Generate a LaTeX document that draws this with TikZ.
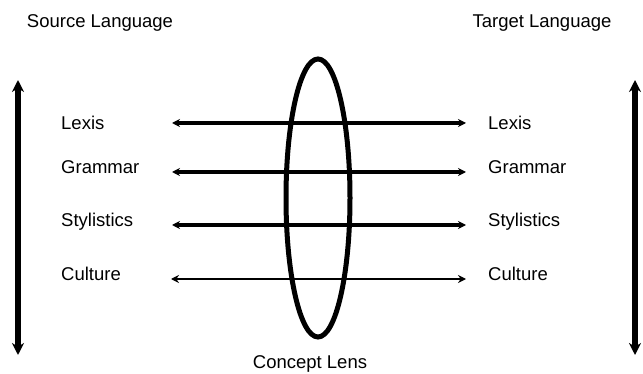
\documentclass[tikz,border=0pt]{standalone}
\usepackage{fontspec}
\setmainfont{Liberation Sans}
\usepackage{tikz}
\usetikzlibrary{arrows.meta}

\begin{document}
\begin{tikzpicture}[x=1pt,y=-1pt,
    lbl/.style={inner sep=0pt,anchor=base,font=\fontsize{18.5}{22}\selectfont},
    axis/.style={line width=6pt,{Stealth[length=12pt,width=12pt]}-{Stealth[length=12pt,width=12pt]}},
    link/.style={line width=3.2pt,{Stealth[length=8pt,width=8pt]}-{Stealth[length=8pt,width=8pt]}}]
  \useasboundingbox (0,0) rectangle (643,374);
  \node[lbl] (src) at (100,28) {Source Language};
  \node[lbl] (tgt) at (542,28) {Target Language};
  % side arrows
  \coordinate (st) at (18,80);  \coordinate (sb) at (18,355);
  \coordinate (tt) at (635,80); \coordinate (tb) at (635,355);
  \draw[axis] (st) -- (sb);
  \draw[axis] (tt) -- (tb);
  % lens
  \draw[line width=5pt] (318,198) ellipse [x radius=32, y radius=139];
  \node[lbl] (lens) at (310,368) {Concept Lens};
  % levels
  \foreach \name/\y/\b in {Lexis/123/130,Grammar/172/174,Stylistics/225/227} {
    \node[lbl,anchor=base west] (l\name) at (61,\b) {\name};
    \node[lbl,anchor=base west] (r\name) at (488,\b) {\name};
    \coordinate (a\name) at (172,\y);
    \coordinate (b\name) at (466,\y);
    \draw[link] (a\name) -- (b\name);
  }
  \node[lbl,anchor=base west] (lCulture) at (61,281) {Culture};
  \node[lbl,anchor=base west] (rCulture) at (488,281) {Culture};
  \coordinate (aCulture) at (171,279);
  \coordinate (bCulture) at (466,279);
  \draw[link,line width=2pt] (aCulture) -- (bCulture);
\end{tikzpicture}
\end{document}
